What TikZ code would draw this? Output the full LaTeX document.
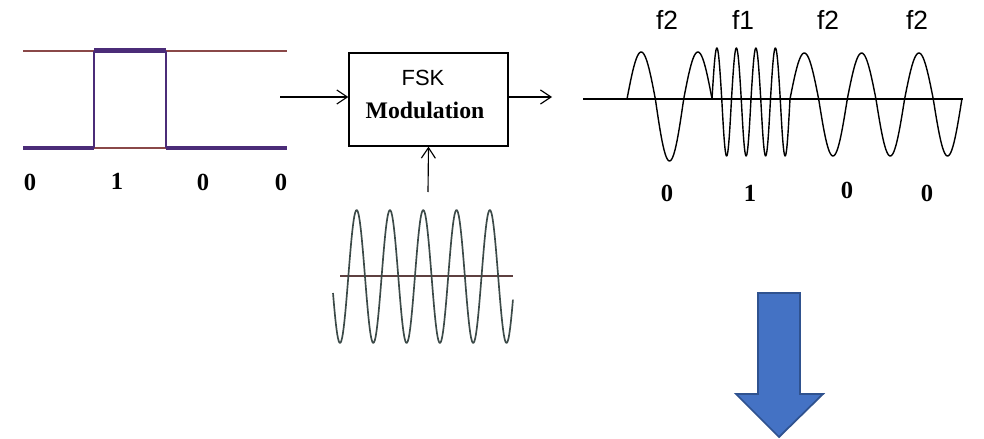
\documentclass[tikz,border=0pt]{standalone}
\usepackage{fontspec}
\setmainfont{Liberation Serif}
\setsansfont{Liberation Sans}
\usetikzlibrary{arrows.meta}
\definecolor{sqthick}{HTML}{4B2C78}
\definecolor{sqthin}{HTML}{8A4848}
\definecolor{carrier}{HTML}{3C4A48}
\definecolor{caraxis}{HTML}{5E4040}
\definecolor{arrowfill}{HTML}{4472C4}
\definecolor{arrowedge}{HTML}{2F528F}
\begin{document}
\begin{tikzpicture}[x=0.02cm,y=-0.02cm,
  bit/.style={font=\fontsize{14}{14}\selectfont\bfseries, inner sep=0pt},
  flab/.style={font=\sffamily\fontsize{15}{15}\selectfont, inner sep=0pt},
  sig/.style={-{Straight Barb[length=6pt,width=8pt]}, line width=0.65pt},
  wave/.style={line width=0.8pt, line join=round},
  thickline/.style={sqthick, line width=2.8pt},
  thinline/.style={sqthin, line width=1.2pt},
  modbox/.style={draw, line width=0.75pt, minimum width=3.18cm, minimum height=1.86cm, inner sep=0pt}
]
\path[use as bounding box] (0,0) rectangle (984,439);

% ---- square wave (data) ----
\coordinate (tl) at (23,50.7);
\coordinate (tr) at (287,50.7);
\coordinate (bl) at (23,148);
\coordinate (br) at (287,148);
\coordinate (r1) at (94,50.7);
\coordinate (f1) at (166,50.7);
\coordinate (r0) at (94,148);
\coordinate (f0) at (166,148);
\draw[thinline] (tl) -- (r1) (f1) -- (tr) (r0) -- (f0);
\draw[sqthick, line width=1pt] (r0) -- (r1);
\draw[sqthick, line width=1.6pt] (f0) -- (f1);
\draw[thickline] (bl) -- (r0) (r1) -- (f1) (f0) -- (br);

\node[bit] (b1) at (30,182) {0};
\node[bit] (b2) at (117,181) {1};
\node[bit] (b3) at (203,182) {0};
\node[bit] (b4) at (281,182) {0};

% ---- modulator ----
\node[modbox] (mod) at (428.5,99.5) {};
\node[font=\sffamily\fontsize{12.5}{12.5}\selectfont, inner sep=0pt] (fsk) at (423,78) {FSK};
\node[font=\fontsize{13.5}{13.5}\selectfont\bfseries, inner sep=0pt] (modt) at (425,110) {Modulation};

\coordinate (in) at (280,97);
\coordinate (out) at (552,97);
\coordinate (car) at (428,192);
\draw[sig] (in) -- (in -| mod.west);
\draw[sig] (out -| mod.east) -- (out);
\draw[sig] (car) -- (mod.south);

% ---- carrier ----
\coordinate (ca1) at (340,276);
\coordinate (ca2) at (513,276);
\draw[caraxis, line width=0.9pt] (ca1) -- (ca2);
\draw[carrier, line width=0.95pt, line join=round] plot[domain=-0.21:5.195, samples=220, smooth]
  ({340+33.3*\x}, {276.5 + 66.5*cos(360*\x)});

% ---- FSK output ----
\coordinate (ax1) at (583,99);
\coordinate (ax2) at (963,99);
\draw[line width=0.75pt] (ax1) -- (ax2);
\draw[wave] plot[domain=0:1.5, samples=90, smooth]
  ({627+56.7*\x}, {99 - sin(360*\x)*(sin(360*\x)>0 ? 47 : 62)});
\draw[wave] plot[domain=0:4, samples=160, smooth]
  ({712+19.5*\x}, {99 - sin(360*\x)*(sin(360*\x)>0 ? 51 : 57)});
\draw[wave] plot[domain=0:3, samples=180, smooth]
  ({790+57.3*\x}, {99 - sin(360*\x)*(sin(360*\x)>0 ? 46 : 57)});

\node[flab] (l1) at (667,20) {f2};
\node[flab] (l2) at (743,20) {f1};
\node[flab] (l3) at (828,20) {f2};
\node[flab] (l4) at (917,20) {f2};

\node[bit] (o1) at (667,193) {0};
\node[bit] (o2) at (750,193) {1};
\node[bit] (o3) at (847,190) {0};
\node[bit] (o4) at (927,193) {0};

% ---- big blue arrow ----
\draw[fill=arrowfill, draw=arrowedge, line width=1pt, line join=miter]
  (758,293) -- (800,293) -- (800,394) -- (823,394) -- (779,437) -- (736,394) -- (758,394) -- cycle;
\end{tikzpicture}
\end{document}
